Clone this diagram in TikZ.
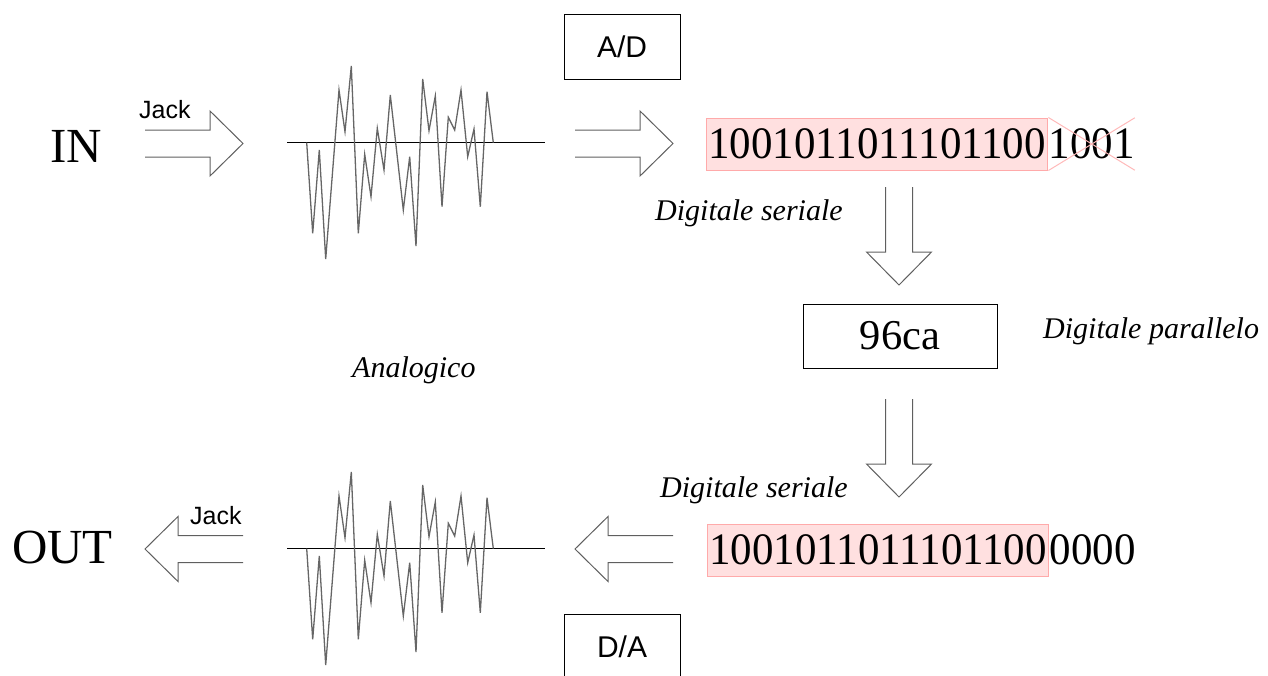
\documentclass[tikz,border=0pt]{standalone}
\usepackage{fontspec}
\setmainfont{Liberation Serif}
\setsansfont{Liberation Sans}
\newfontfamily\bitfont[FakeStretch=0.955]{Liberation Serif}
\usetikzlibrary{calc}
\definecolor{pinkfill}{RGB}{255,224,224}
\definecolor{pinkline}{RGB}{255,170,170}
\definecolor{crossred}{RGB}{255,185,185}
\definecolor{arrgray}{RGB}{95,95,95}
\begin{document}
\begin{tikzpicture}[x=1pt,y=-1pt,
  txt/.style={inner sep=0pt, anchor=base west},
  big/.style={font=\fontsize{49}{55}\selectfont},
  bits/.style={font=\bitfont\fontsize{45}{52}\selectfont},
  jack/.style={font=\sffamily\fontsize{25}{28}\selectfont},
  lab/.style={font=\itshape\fontsize{30}{34}\selectfont},
  conv/.style={draw=black, line width=1pt, minimum width=116pt, minimum height=65pt, inner sep=0pt, font=\sffamily\fontsize{30}{34}\selectfont},
  pinkbox/.style={fill=pinkfill, draw=pinkline, line width=1pt, text height=40pt, text depth=12pt, inner ysep=0pt, inner xsep=2pt, anchor=base west},
  blk/.style={draw=arrgray, line width=1pt, line join=miter},
  sig/.style={draw=black!60, line width=1.3pt, line join=miter},
  axis/.style={draw=black, line width=1pt},
  barr/.pic={\draw[blk] (-98,-13.5) -- (-33,-13.5) -- (-33,-32.5) -- (0,0) -- (-33,32.5) -- (-33,13.5) -- (-98,13.5);},
  wave/.pic={
    \draw[axis] (0,0) -- (258,0);
    \draw[sig] (19.7,0) -- (25.7,90.6) -- (32.3,7.3) -- (38.7,116.3) -- (52,-52.7) -- (58,-11) -- (64.3,-76.7) -- (71.3,90.6) -- (77.7,11.6) -- (84,54) -- (90.3,-14.4) -- (97,27.3) -- (103.3,-47.7) -- (116.3,67.3) -- (122.7,14) -- (129,103.3) -- (135.7,-63.7) -- (142,-12) -- (148.3,-46.7) -- (155,64) -- (161.3,-25.4) -- (167.7,-12.7) -- (174,-52.7) -- (180.7,14) -- (187,-13.7) -- (193.3,64) -- (200,-51) -- (206.3,0);
  }]
\useasboundingbox (0,0) rectangle (1268,675);
\clip (0,0) rectangle (1268,675);

% left labels
\node[txt, big] (in) at (50,162) {IN};
\node[txt, big] (out) at (12,563) {OUT};
\node[txt, jack] (jackin) at (139,118) {Jack};
\node[txt, jack] (jackout) at (190,524) {Jack};

% block arrows
\pic at (243,143.5) {barr};
\pic at (673,143.5) {barr};
\pic[rotate=180] at (145,549) {barr};
\pic[rotate=180] at (575,549) {barr};
\pic[rotate=-90] at (899,285) {barr};
\pic[rotate=-90] at (899,497) {barr};

% waveforms
\pic at (287,142.7) {wave};
\pic at (287,548.7) {wave};

% converters
\node[conv] (ad) at (622,46.5) {A/D};
\node[conv] (da) at (622,646.5) {D/A};
\node[draw=black, line width=1pt, minimum width=194pt, minimum height=64pt, inner sep=0pt, font=\fontsize{42.5}{50}\selectfont] (par) at (900,336) {96ca};

% bit strings
\node[pinkbox, bits] (bitsA) at (706,158) {1001011011101100};
\node[inner sep=0pt, text height=40pt, text depth=12pt, anchor=base west, bits] (extraA) at (bitsA.base east) {1001};
\draw[crossred, line width=1pt] (bitsA.north east) -- (extraA.south east);
\draw[crossred, line width=1pt] (bitsA.south east) -- (extraA.north east);

\node[pinkbox, bits] (bitsB) at (707,564) {1001011011101100};
\node[inner sep=0pt, text height=40pt, text depth=12pt, anchor=base west, bits] (extraB) at (bitsB.base east) {0000};

% italic labels
\node[txt, lab] (ser1) at (655,220) {Digitale seriale};
\node[txt, lab] (ser2) at (660,497) {Digitale seriale};
\node[txt, lab] (parl) at (1043,338) {Digitale parallelo};
\node[txt, lab] (ana) at (352,377) {Analogico};
\end{tikzpicture}
\end{document}
